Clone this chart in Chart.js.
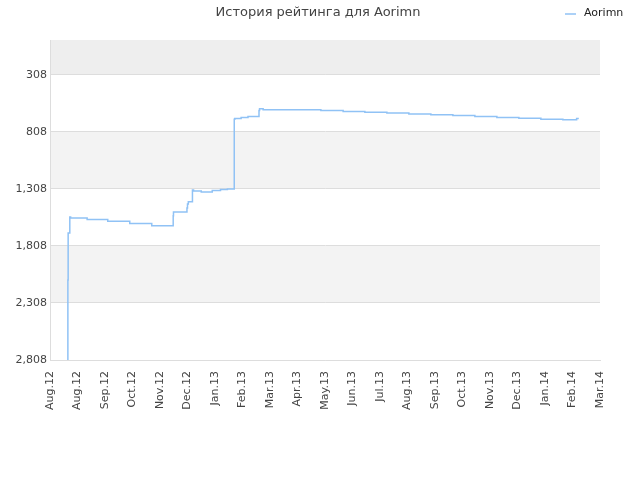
<!DOCTYPE html>
<html>
<head>
<meta charset="utf-8">
<script src="https://cdn.jsdelivr.net/npm/chart.js@4"></script>
<style>body{margin:0;background:#fff}#wrap{width:640px;height:480px}</style>
</head>
<body>
<div id="wrap"><canvas id="c"></canvas></div>
<script>
const monthLabels = ['Aug.12','Aug.12','Sep.12','Oct.12','Nov.12','Dec.12','Jan.13','Feb.13','Mar.13','Apr.13','May.13','Jun.13','Jul.13','Aug.13','Sep.13','Oct.13','Nov.13','Dec.13','Jan.14','Feb.14','Mar.14'];
const yTicks = [308, 808, 1308, 1808, 2308, 2808];
// month index (0 = left edge) and rating
const ratingX = [0.65,0.66,0.72,0.75,1.35,2.1,2.9,3.7,4.48,4.49,4.98,5.0,5.03,5.18,5.22,5.5,5.9,6.2,6.45,6.7,6.72,6.95,7.2,7.6,7.62,7.75,9.85,10.66,11.45,12.25,13.05,13.85,14.65,15.45,16.25,17.05,17.85,18.65,19.15,19.23];
const ratingY = [2808,2106,1694,1553,1562,1575,1590,1610,1630,1542,1510,1475,1440,1419,1317,1325,1335,1322,1312,1308,697,690,680,672,620,603,612,620,628,635,642,650,657,664,672,680,688,697,700,690];

const font = {family:'DejaVu Sans', size:11};
const bands = {
  id:'bands',
  beforeDraw(chart){
    const {ctx, chartArea:a, scales:{y}} = chart;
    const fill = (v1, v2, col) => {
      const p1 = y.getPixelForValue(v1), p2 = y.getPixelForValue(v2);
      ctx.fillStyle = col;
      ctx.fillRect(a.left, Math.min(p1,p2), a.right - a.left, Math.abs(p2-p1));
    };
    fill(y.min, 308, '#eeeeee');
    fill(808, 1308, '#f3f3f3');
    fill(1808, 2308, '#f3f3f3');
  },
  afterDraw(chart){
    const ctx = chart.ctx;
    ctx.save();
    ctx.fillStyle = '#444';
    ctx.font = '13px DejaVu Sans';
    ctx.textAlign = 'center';
    ctx.textBaseline = 'middle';
    ctx.fillText('История рейтинга для Aorimn', 318, 13);
    ctx.font = '11px DejaVu Sans';
    ctx.textAlign = 'left';
    ctx.fillStyle = '#222';
    ctx.fillText('Aorimn', 584, 13);
    ctx.strokeStyle = '#90c2f5';
    ctx.lineWidth = 1.5;
    ctx.beginPath(); ctx.moveTo(565, 14); ctx.lineTo(576, 14); ctx.stroke();
    ctx.restore();
  }
};

new Chart(document.getElementById('c'), {
  type: 'line',
  data: {
    datasets: [{
      label: 'Aorimn',
      data: ratingX.map((x, i) => ({x: x, y: ratingY[i]})),
      borderColor: '#90c2f5',
      borderWidth: 1.5,
      pointRadius: 0,
      stepped: 'after',
      fill: false
    }]
  },
  options: {
    responsive: true,
    maintainAspectRatio: false,
    animation: false,
    layout: {padding: {left: 0, right: 40, top: 40, bottom: 0}},
    plugins: {legend: {display: false}, title: {display: false}, tooltip: {enabled: false}},
    scales: {
      x: {
        type: 'linear', min: 0, max: 20,
        afterBuildTicks: s => { s.ticks = monthLabels.map((_, i) => ({value: i})); },
        afterFit: s => { s.height = 120; },
        ticks: {autoSkip: false, minRotation: 90, maxRotation: 90, color: '#444', font: font,
          callback: v => monthLabels[v]},
        grid: {display: false},
        border: {color: '#ddd'}
      },
      y: {
        reverse: true, min: 1, max: 2808,
        afterBuildTicks: s => { s.ticks = yTicks.map(v => ({value: v})); },
        afterFit: s => { s.width = 50; },
        ticks: {color: '#444', font: font},
        grid: {color: '#dddddd', drawTicks: false},
        border: {color: '#ddd'}
      }
    }
  },
  plugins: [bands]
});
</script>
</body>
</html>
